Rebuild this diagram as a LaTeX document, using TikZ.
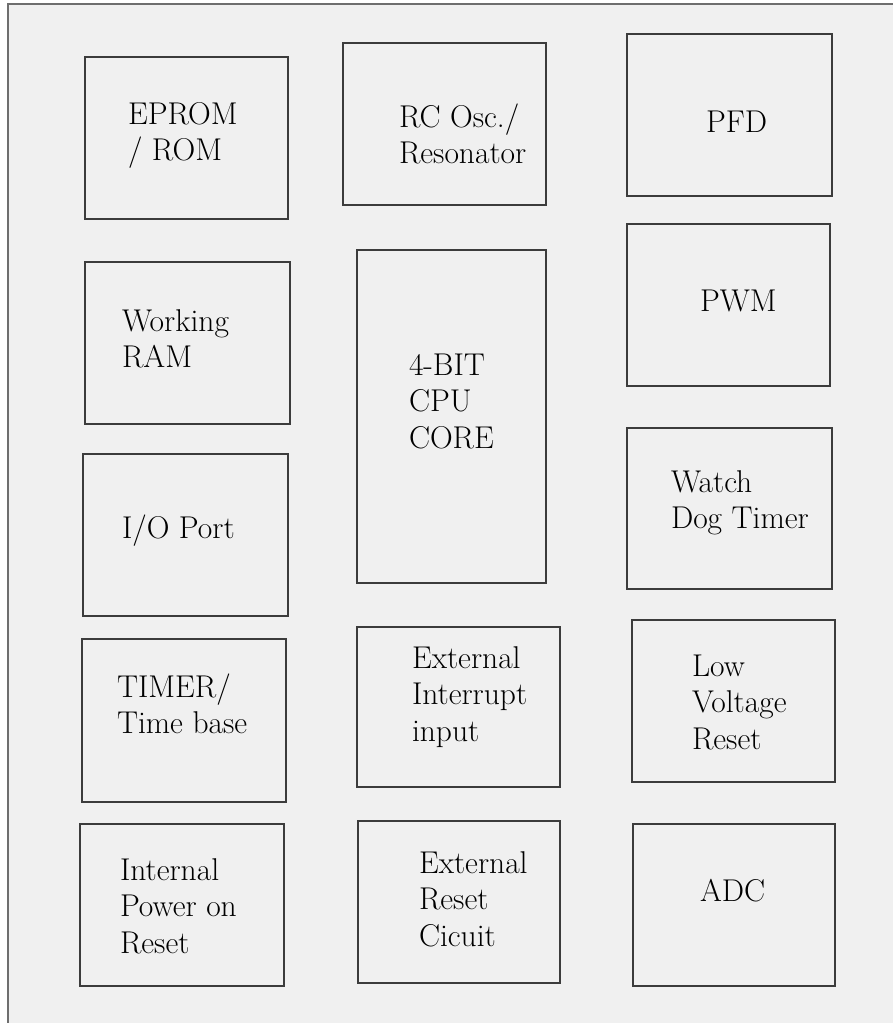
\documentclass[tikz,border=0pt]{standalone}
\usepackage{fontspec}
\usetikzlibrary{fit}
\definecolor{bggray}{HTML}{F0F0F0}
\definecolor{framecol}{HTML}{6E6E6E}
\definecolor{boxcol}{HTML}{3C3C3C}
\tikzset{
  blk/.style={draw=boxcol, line width=1.3pt, inner sep=0pt},
  lbl/.style={anchor=base west, inner sep=0pt, outer sep=0pt,
    font=\fontsize{31.5}{36.5}\selectfont\addfontfeatures{FakeBold=0.6}, text=black}
}
\newcommand{\mklines}[1]{\vtop{\baselineskip=36.5pt\halign{##\hfil\cr#1\crcr}}}
\begin{document}
\begin{tikzpicture}[x=1pt,y=-1pt]
\useasboundingbox (0,0) rectangle (893,1023);
\fill[white] (0,0) rectangle (893,1023);
\draw[framecol, line width=1.6pt, fill=bggray] (8,4) rectangle (905,1040);
% boxes
\node[blk, fit={(85,57) (288,219)}] (eprom) {};
\node[blk, fit={(343,43) (546,205)}] (rcosc) {};
\node[blk, fit={(627,34) (832,196)}] (pfd) {};
\node[blk, fit={(85,262) (290,424)}] (ram) {};
\node[blk, fit={(357,250) (546,583)}] (cpu) {};
\node[blk, fit={(627,224) (830,386)}] (pwm) {};
\node[blk, fit={(83,454) (288,616)}] (io) {};
\node[blk, fit={(627,428) (832,589)}] (wdt) {};
\node[blk, fit={(82,639) (286,802)}] (timer) {};
\node[blk, fit={(357,627) (560,787)}] (extint) {};
\node[blk, fit={(632,620) (835,782)}] (lvr) {};
\node[blk, fit={(80,824) (284,986)}] (ipor) {};
\node[blk, fit={(358,821) (560,983)}] (extrst) {};
\node[blk, fit={(633,824) (835,986)}] (adc) {};
% labels
\node[lbl] (eprom-t) at (128,124) {\mklines{EPROM\cr / ROM}};
\node[lbl] (rcosc-t) at (399,127) {\mklines{RC Osc./\cr Resonator}};
\node[lbl] (pfd-t) at (706,132) {PFD};
\node[lbl] (ram-t) at (122,331) {\mklines{Working\cr RAM}};
\node[lbl] (cpu-t) at (409,375) {\mklines{4-BIT\cr CPU\cr CORE}};
\node[lbl] (pwm-t) at (700,311) {PWM};
\node[lbl] (io-t) at (122,538) {I/O Port};
\node[lbl] (wdt-t) at (671,492) {\mklines{Watch\cr Dog Timer}};
\node[lbl] (timer-t) at (117,697) {\mklines{TIMER/\cr Time base}};
\node[lbl] (extint-t) at (412,668) {\mklines{External\cr Interrupt\cr input}};
\node[lbl] (lvr-t) at (692,676) {\mklines{Low\cr Voltage\cr Reset}};
\node[lbl] (ipor-t) at (120,880) {\mklines{Internal\cr Power on\cr Reset}};
\node[lbl] (extrst-t) at (419,873) {\mklines{External\cr Reset\cr Cicuit}};
\node[lbl] (adc-t) at (700,901) {ADC};
\end{tikzpicture}
\end{document}
